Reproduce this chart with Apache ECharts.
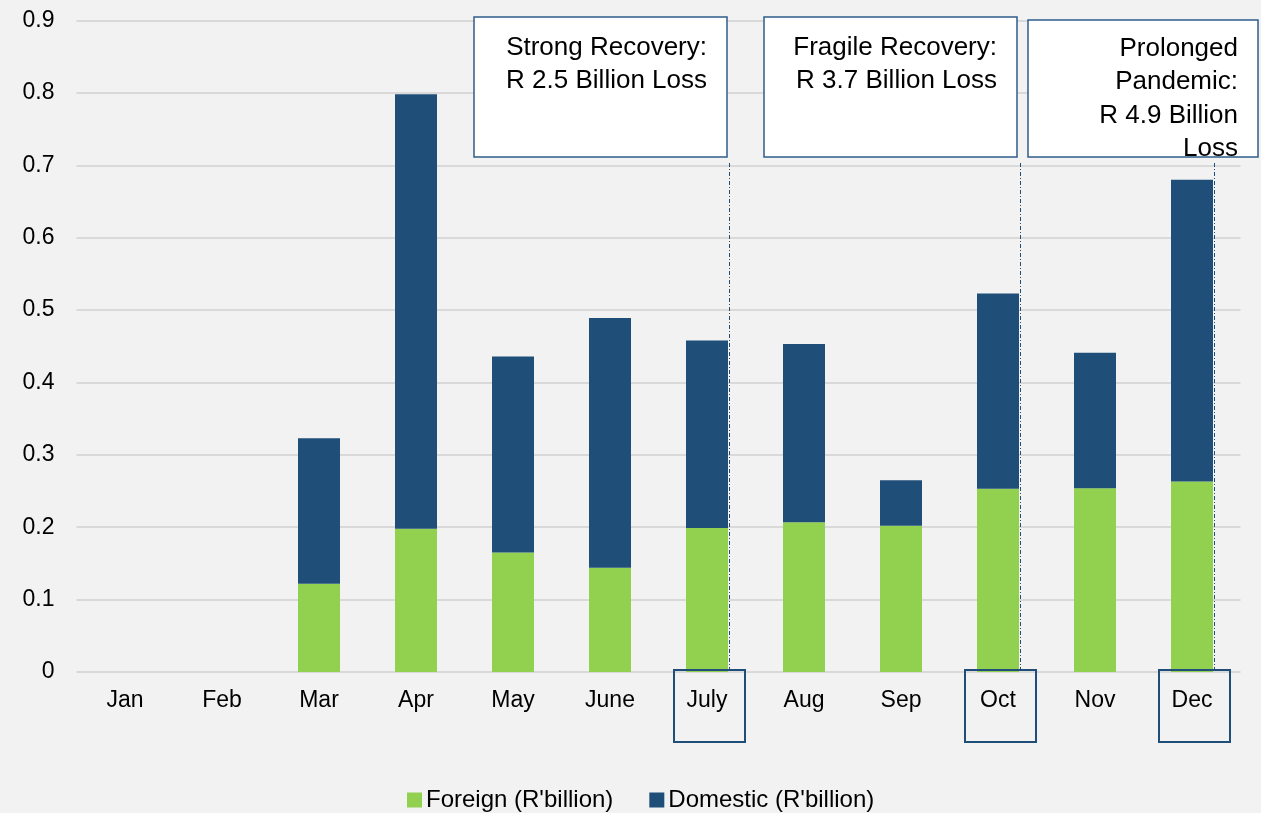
<!DOCTYPE html>
<html><head><meta charset="utf-8">
<script src="https://cdn.jsdelivr.net/npm/echarts@6/dist/echarts.min.js"></script>
<style>html,body{margin:0;padding:0;background:#f2f2f2;}#c{width:1261px;height:813px;}</style>
</head><body><div id="c"></div>
<script>
const months = ['Jan','Feb','Mar','Apr','May','June','July','Aug','Sep','Oct','Nov','Dec'];
const foreign = [null,null,0.122,0.198,0.165,0.144,0.199,0.207,0.202,0.253,0.254,0.263];
const domestic = [null,null,0.201,0.600,0.271,0.345,0.259,0.246,0.063,0.270,0.187,0.417];
const yTicks = [0,0.1,0.2,0.3,0.4,0.5,0.6,0.7,0.8,0.9];
const noteMonths = ['July','Oct','Dec'];
const noteTexts = ['Strong Recovery:\nR 2.5 Billion Loss','Fragile Recovery:\nR 3.7 Billion Loss','Prolonged\nPandemic:\nR 4.9 Billion\nLoss'];
const noteBoxes = [[474,17,253,140,31],[764,17,253,140,31],[1028,20,230,137,32]];
const FONT = 'Arial';
const chart = echarts.init(document.getElementById('c'));
const barW = 42;
chart.setOption({
  backgroundColor:'#f2f2f2',
  animation:false,
  grid:{left:76.5,right:20.5,top:20.5,bottom:141,containLabel:false},
  legend:{left:402,top:783,itemWidth:15,itemHeight:15,itemGap:36,icon:'rect',
    textStyle:{fontFamily:FONT,fontSize:24,color:'#000',padding:[0,0,0,-1]},
    data:['Foreign (R\'billion)','Domestic (R\'billion)']},
  xAxis:{type:'category',data:months,axisTick:{show:false},axisLine:{show:false},
    axisLabel:{fontFamily:FONT,fontSize:23,color:'#000',margin:17}},
  yAxis:{type:'value',min:0,max:0.9,interval:0.1,
    axisLabel:{fontFamily:FONT,fontSize:23,color:'#000',margin:22,formatter:v=>String(+v.toFixed(1))},
    splitLine:{lineStyle:{color:'#d9d9d9',width:2}},axisLine:{show:false},axisTick:{show:false}},
  series:[
    {name:'Foreign (R\'billion)',type:'bar',stack:'t',barWidth:barW,data:foreign,itemStyle:{color:'#92d050'}},
    {name:'Domestic (R\'billion)',type:'bar',stack:'t',barWidth:barW,data:domestic,itemStyle:{color:'#1f4e79'}}
  ]
});
const g = [];
const y0 = chart.convertToPixel({yAxisIndex:0},0);
noteMonths.forEach((m,i)=>{
  const cx = chart.convertToPixel({xAxisIndex:0},m);
  const [bx,by,bw,bh,ty] = noteBoxes[i];
  g.push({type:'line',shape:{x1:cx+barW/2+1.5,y1:by+bh+6,x2:cx+barW/2+1.5,y2:y0},
    style:{stroke:'#1f4e79',lineWidth:1,lineDash:[4,2,1,2]},z:10});
  g.push({type:'rect',shape:{x:bx,y:by,width:bw,height:bh},style:{fill:'#fff',stroke:'#2f5d8a',lineWidth:1.5},z:11});
  g.push({type:'text',x:bx+bw-20,y:ty,style:{text:noteTexts[i],fill:'#000',fontFamily:FONT,fontSize:26,textAlign:'right',textVerticalAlign:'top',lineHeight:33.5},z:12});
  g.push({type:'rect',shape:{x:cx-33,y:y0-2,width:71,height:72},style:{fill:'none',stroke:'#1f4e79',lineWidth:2},z:12});
});
chart.setOption({graphic:g});
</script></body></html>
